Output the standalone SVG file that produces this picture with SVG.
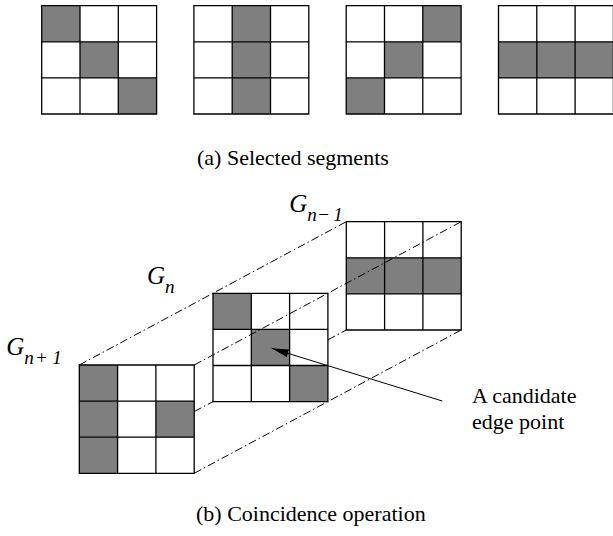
<svg xmlns="http://www.w3.org/2000/svg" xmlns:xlink="http://www.w3.org/1999/xlink" width="613" height="536" viewBox="0 0 613 536">
  <style>
    .bg { fill: #ffffff; }
    .on { fill: #7f7f7f; }
    .lines { fill: none; stroke: #000000; stroke-width: 1.3; }
    .proj { fill: none; stroke: #000000; stroke-width: 1; stroke-dasharray: 8 3 1.5 3; }
    .ptr { fill: none; stroke: #000000; stroke-width: 1; }
    .cap { font-size: 22px; fill: #000000; }
    .lbl { font-style: italic; font-size: 25px; fill: #000000; }
    .sub { font-style: italic; font-size: 19px; fill: #000000; }
    .op { font-style: normal; }
  </style>
  <defs>
    <!-- 3x3 window: white background and cell lines, cell 38.3 x 36.1 -->
    <rect id="win-bg" class="bg" x="0" y="0" width="114.9" height="108.3"/>
    <path id="win-lines" class="lines" d="M0,0H114.9V108.3H0Z M38.3,0V108.3 M76.6,0V108.3 M0,36.1H114.9 M0,72.2H114.9"/>
    <rect id="cell" class="on" x="0" y="0" width="38.3" height="36.1"/>
    <marker id="head" viewBox="0 0 17 8" refX="17" refY="4" markerWidth="17" markerHeight="8" markerUnits="userSpaceOnUse" orient="auto">
      <path d="M0,0 L17,4 L0,8 Z" fill="#000000"/>
    </marker>
  </defs>

  <g font-family="Liberation Serif, Tinos, Times New Roman, DejaVu Serif, serif">
  <!-- (a) the four selected segments -->
  <g id="seg-diag" transform="translate(41.7,5.7)">
    <use xlink:href="#win-bg"/>
    <use xlink:href="#cell" x="0" y="0"/>
    <use xlink:href="#cell" x="38.3" y="36.1"/>
    <use xlink:href="#cell" x="76.6" y="72.2"/>
    <use xlink:href="#win-lines"/>
  </g>
  <g id="seg-vert" transform="translate(193.9,5.7)">
    <use xlink:href="#win-bg"/>
    <use xlink:href="#cell" x="38.3" y="0"/>
    <use xlink:href="#cell" x="38.3" y="36.1"/>
    <use xlink:href="#cell" x="38.3" y="72.2"/>
    <use xlink:href="#win-lines"/>
  </g>
  <g id="seg-anti" transform="translate(346.2,5.7)">
    <use xlink:href="#win-bg"/>
    <use xlink:href="#cell" x="76.6" y="0"/>
    <use xlink:href="#cell" x="38.3" y="36.1"/>
    <use xlink:href="#cell" x="0" y="72.2"/>
    <use xlink:href="#win-lines"/>
  </g>
  <g id="seg-horiz" transform="translate(498.5,5.7)">
    <use xlink:href="#win-bg"/>
    <use xlink:href="#cell" x="0" y="36.1"/>
    <use xlink:href="#cell" x="38.3" y="36.1"/>
    <use xlink:href="#cell" x="76.6" y="36.1"/>
    <use xlink:href="#win-lines"/>
  </g>
  <text id="caption-a" class="cap" x="197" y="165">(a) Selected segments</text>

  <!-- (b) coincidence of three successive windows -->
  <g id="win-g-next" transform="translate(79.3,365)">
    <use xlink:href="#win-bg"/>
    <use xlink:href="#cell" x="0" y="0"/>
    <use xlink:href="#cell" x="0" y="36.1"/>
    <use xlink:href="#cell" x="0" y="72.2"/>
    <use xlink:href="#cell" x="76.6" y="36.1"/>
    <use xlink:href="#win-lines"/>
    <text class="lbl" x="-73" y="-10">G</text>
    <text class="sub" y="-1"><tspan x="-55">n</tspan><tspan class="op" x="-43">+</tspan><tspan x="-27">1</tspan></text>
  </g>
  <g id="win-g-cur" transform="translate(213,293.3)">
    <use xlink:href="#win-bg"/>
    <use xlink:href="#cell" x="0" y="0"/>
    <use xlink:href="#cell" x="38.3" y="36.1"/>
    <use xlink:href="#cell" x="76.6" y="72.2"/>
    <use xlink:href="#win-lines"/>
    <text class="lbl" x="-66" y="-9.3">G</text>
    <text class="sub" x="-48" y="-0.3">n</text>
  </g>
  <g id="win-g-prev" transform="translate(346.3,221.7)">
    <use xlink:href="#win-bg"/>
    <use xlink:href="#cell" x="0" y="36.1"/>
    <use xlink:href="#cell" x="38.3" y="36.1"/>
    <use xlink:href="#cell" x="76.6" y="36.1"/>
    <use xlink:href="#win-lines"/>
    <text class="lbl" x="-57" y="-9.7">G</text>
    <text class="sub" y="-0.7"><tspan x="-39">n</tspan><tspan class="op" x="-28">−</tspan><tspan x="-13">1</tspan></text>
  </g>

  <!-- projection lines between window corners, and the pointer -->
  <g id="connectors">
    <path class="proj" d="M79.3,365 L346.3,221.7"/>
    <path class="proj" d="M194.2,365 L461.2,221.7"/>
    <path class="proj" d="M194.2,411.6 L213,401.6 M327.9,339.8 L346.3,330"/>
    <path class="proj" d="M194.2,473.3 L461.2,330"/>
    <path class="ptr" d="M442.3,401 L271.7,348.3" marker-end="url(#head)"/>
  </g>

  <text id="note" class="cap"><tspan x="472" y="403">A candidate</tspan><tspan x="472" y="429">edge point</tspan></text>
  <text id="caption-b" class="cap" x="196" y="521">(b) Coincidence operation</text>
  </g>
</svg>
